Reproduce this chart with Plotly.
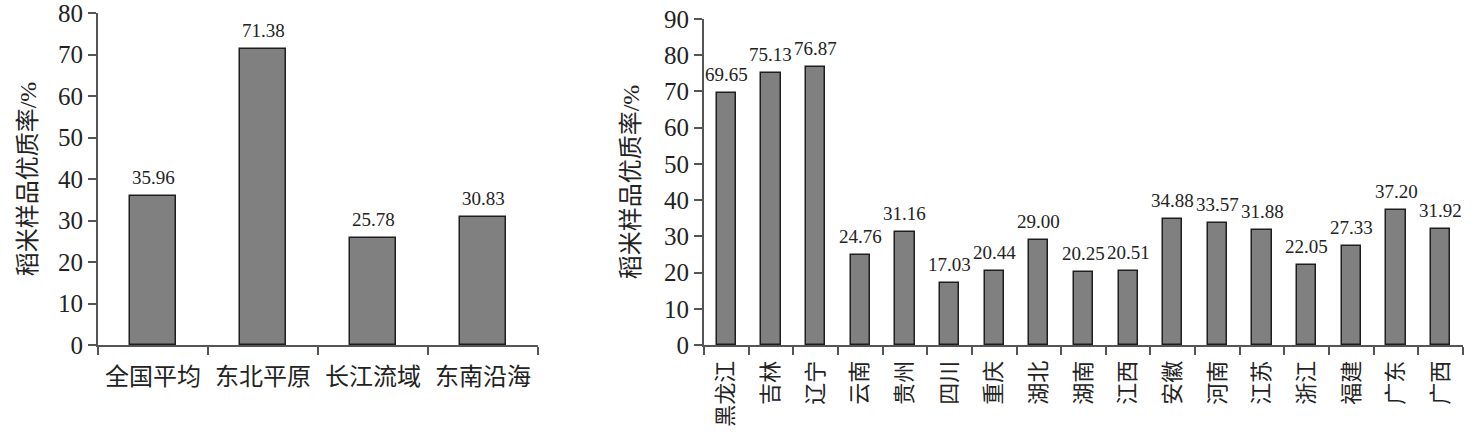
import plotly.graph_objects as go

# ---- data ----
regions = ["全国平均", "东北平原", "长江流域", "东南沿海"]
region_values = [35.96, 71.38, 25.78, 30.83]

provinces = ["黑龙江", "吉林", "辽宁", "云南", "贵州", "四川", "重庆", "湖北", "湖南",
             "江西", "安徽", "河南", "江苏", "浙江", "福建", "广东", "广西"]
province_values = [69.65, 75.13, 76.87, 24.76, 31.16, 17.03, 20.44, 29.00, 20.25,
                   20.51, 34.88, 33.57, 31.88, 22.05, 27.33, 37.20, 31.92]

left_yticks = [0, 10, 20, 30, 40, 50, 60, 70, 80]
right_yticks = [0, 10, 20, 30, 40, 50, 60, 70, 80, 90]
y_title = "稻米样品优质率/%"

# ---- styles ----
SERIF = "Liberation Serif, Times New Roman, Noto Sans CJK SC, serif"
CJK = "Noto Sans CJK SC, sans-serif"
AX = "#555555"
TXT = "#222222"
BAR = "#808080"
EDGE = "#1e1e1e"

W, H = 1473, 440


def px_x(p):
    return p / W


def px_y(p):
    return 1 - p / H


fig = go.Figure()
fig.add_trace(go.Bar(
    x=regions, y=region_values, xaxis="x", yaxis="y",
    width=0.41, marker=dict(color=BAR, line=dict(color=EDGE, width=1.5)),
))
fig.add_trace(go.Bar(
    x=provinces, y=province_values, xaxis="x2", yaxis="y2",
    width=0.43, marker=dict(color=BAR, line=dict(color=EDGE, width=1.5)),
))

annotations = []
for cat, v in zip(regions, region_values):
    annotations.append(dict(x=cat, y=v, xref="x", yref="y", text=f"{v:.2f}",
                            showarrow=False, yanchor="bottom", yshift=6,
                            font=dict(family=SERIF, size=19, color=TXT)))
for cat, v in zip(provinces, province_values):
    annotations.append(dict(x=cat, y=v, xref="x2", yref="y2", text=f"{v:.2f}",
                            showarrow=False, yanchor="bottom", yshift=6,
                            font=dict(family=SERIF, size=19, color=TXT)))

common_x = dict(type="category", showline=True, linecolor=AX, linewidth=2,
                ticks="outside", tickson="boundaries", ticklen=8, tickwidth=2,
                tickcolor=AX, showgrid=False, zeroline=False, automargin=False,
                ticklabeloverflow="allow")
common_y = dict(showline=True, linecolor=AX, linewidth=2, ticks="outside",
                ticklen=8, tickwidth=2, tickcolor=AX, showgrid=False,
                zeroline=False, automargin=False, ticklabeloverflow="allow",
                tickfont=dict(family=SERIF, size=25, color=TXT))

fig.update_layout(
    width=W, height=H,
    margin=dict(l=0, r=0, t=0, b=0),
    paper_bgcolor="white", plot_bgcolor="white",
    showlegend=False, bargap=0,
    annotations=annotations,
    xaxis=dict(common_x, domain=[px_x(98), px_x(538)], anchor="y",
               range=[-0.5, len(regions) - 0.5], ticklabelstandoff=9,
               tickfont=dict(family=CJK, size=24, color=TXT)),
    yaxis=dict(common_y, domain=[px_y(345), px_y(13)], anchor="x",
               range=[0, 80], tickvals=left_yticks,
               title=dict(text=y_title, font=dict(family=SERIF, size=24, color=TXT),
                          standoff=15)),
    xaxis2=dict(common_x, domain=[px_x(704), px_x(1463)], anchor="y2",
                range=[-0.5, len(provinces) - 0.5], tickangle=-90,
                ticklabelstandoff=5,
                tickfont=dict(family=CJK, size=22, color=TXT)),
    yaxis2=dict(common_y, domain=[px_y(345), px_y(19)], anchor="x2",
                range=[0, 90], tickvals=right_yticks,
                title=dict(text=y_title, font=dict(family=SERIF, size=24, color=TXT),
                           standoff=18)),
)

fig.write_html("out.html", config={"displayModeBar": False},
               post_script="document.body.style.margin='0';")
